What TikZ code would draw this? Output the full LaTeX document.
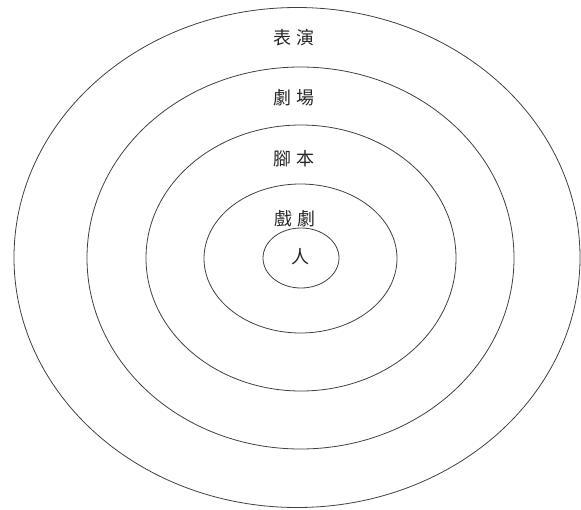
\documentclass[tikz,border=0pt]{standalone}
\usepackage{fontspec}
\newfontfamily\cjk{Noto Sans CJK TC}
\usepackage{tikz}
\usetikzlibrary{shapes.geometric,positioning}

\begin{document}
\begin{tikzpicture}[
			x=1pt, y=-1pt,
			ring/.style = {draw=black!75, line width=0.8pt},
			word/.style = {font=\cjk\fontsize{18}{20}\selectfont, text=black!85, inner sep=0pt},
			]
			\useasboundingbox (0,0) rectangle (581,509);
			% rings
			\draw[ring] (297,257.5) ellipse [x radius=283pt, y radius=250pt];
			\draw[ring] (300.5,258) ellipse [x radius=213.5pt, y radius=191pt];
			\draw[ring] (301,258) ellipse [x radius=155pt, y radius=133pt];
			\draw[ring] (300.5,258.5) ellipse [x radius=96.5pt, y radius=74.5pt];
			\draw[ring] (301,258) ellipse [x radius=38pt, y radius=30pt];
			% words
			\node[word] (biaoyan) at (294,38) {表\ 演};
			\node[word] (juchang) at (294,98) {劇\ 場};
			\node[word] (jiaoben) at (294,159) {腳\ 本};
			\node[word] (xiju) at (295,219) {戲\ 劇};
			\node[word] (ren) at (300,257) {人};
		\end{tikzpicture}
\end{document}
